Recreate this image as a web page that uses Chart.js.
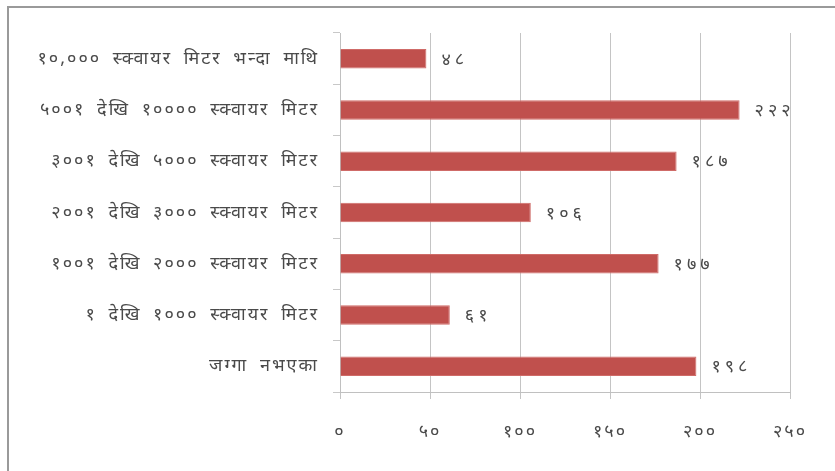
<!DOCTYPE html>
<html>
<head>
<meta charset="utf-8">
<script src="https://cdn.jsdelivr.net/npm/chart.js@4"></script>
<style>
    body { margin: 0; background: #fff; }
    #wrap { position: relative; width: 835px; height: 471px; }
    #frame { position: absolute; left: 7px; top: 6px; right: -10px; bottom: -10px; border-left: 2px solid #9a9a9a; border-top: 2px solid #9a9a9a; }
</style>
</head>
<body>
<div id="wrap">
    <div id="frame"></div>
    <canvas id="chart" width="835" height="471"></canvas>
</div>
<script>
const categories = [
    "१०,००० स्क्वायर मिटर भन्दा माथि",
    "५००१ देखि १०००० स्क्वायर मिटर",
    "३००१ देखि ५००० स्क्वायर मिटर",
    "२००१ देखि ३००० स्क्वायर मिटर",
    "१००१ देखि २००० स्क्वायर मिटर",
    "१ देखि १००० स्क्वायर मिटर",
    "जग्गा नभएका"
];
const households = [48, 222, 187, 106, 177, 61, 198];
const tickLabels = ["०", "५०", "१००", "१५०", "२००", "२५०"];

const nepaliDigits = ["०", "१", "२", "३", "४", "५", "६", "७", "८", "९"];
function toNepali(n) {
    return String(n).split('').map(d => nepaliDigits[+d] ?? d).join('');
}

const fontFamily = "'Noto Sans', 'DejaVu Sans', sans-serif";
const textColor = '#4a4a4a';

// the original uses a wide devanagari face, so space the letters out
const spacing = {
    id: 'spacing',
    beforeDraw(chart) {
        chart.ctx.letterSpacing = '2px';
        chart.ctx.wordSpacing = '5px';
    }
};

const valueLabels = {
    id: 'valueLabels',
    afterDatasetsDraw(chart) {
        const ctx = chart.ctx;
        const meta = chart.getDatasetMeta(0);
        ctx.save();
        ctx.font = "18px " + fontFamily;
        ctx.letterSpacing = '4px';
        ctx.fillStyle = textColor;
        ctx.textAlign = 'left';
        ctx.textBaseline = 'middle';
        meta.data.forEach(function (bar, i) {
            ctx.fillText(toNepali(households[i]), bar.x + 15, bar.y + 1);
        });
        ctx.restore();
    }
};

new Chart(document.getElementById('chart'), {
    type: 'bar',
    data: {
        labels: categories,
        datasets: [{
            data: households,
            backgroundColor: '#c0504d',
            borderColor: '#cf6b68',
            borderWidth: 1,
            barPercentage: 0.76,
            categoryPercentage: 0.5,
        }]
    },
    options: {
        indexAxis: 'y',
        responsive: false,
        animation: false,
        layout: { padding: { top: 33, right: 45, left: 0, bottom: 0 } },
        plugins: {
            legend: { display: false },
            tooltip: { enabled: false },
        },
        scales: {
            x: {
                min: 0,
                max: 250,
                ticks: {
                    stepSize: 50,
                    padding: 22,
                    color: textColor,
                    font: { size: 18, family: fontFamily },
                    callback: function (value, index) { return tickLabels[index]; }
                },
                grid: { color: '#c4c4c4', lineWidth: 1, tickLength: 7 },
                border: { color: '#c0c0c0' },
                afterFit: function (scale) { scale.height = 79; }
            },
            y: {
                offset: true,
                ticks: {
                    padding: 14,
                    color: textColor,
                    font: { size: 18, family: fontFamily },
                },
                grid: { offset: true, drawOnChartArea: false, tickLength: 7, color: '#c8c8c8' },
                border: { color: '#c0c0c0' },
                afterFit: function (scale) { scale.width = 340; }
            }
        }
    },
    plugins: [spacing, valueLabels]
});
</script>
</body>
</html>
